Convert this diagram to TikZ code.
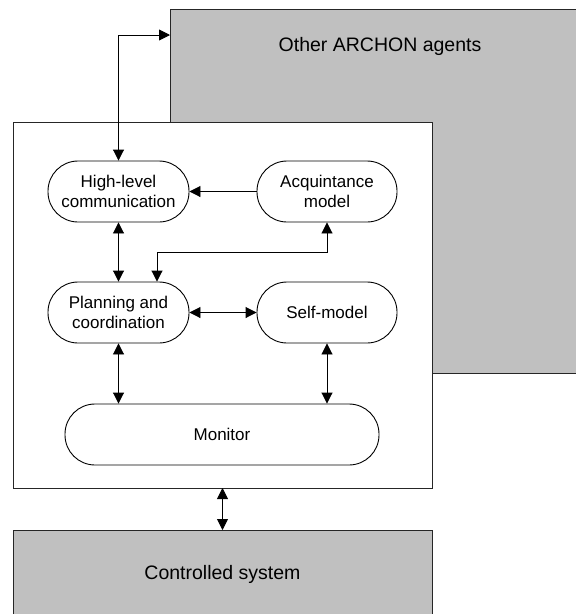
\documentclass[tikz,border=0pt]{standalone}
\usepackage{fontspec}
\setmainfont{Liberation Sans}
\usetikzlibrary{arrows.meta}

\definecolor{boxgray}{HTML}{C0C0C0}

\tikzset{
  module/.style={draw=black, line width=0.9pt, fill=white, rounded corners=30pt,
    minimum width=141pt, minimum height=61pt, inner sep=0pt, align=center,
    font=\fontsize{17}{19.5}\selectfont},
  outerbox/.style={draw=black!85, line width=1.3pt, anchor=north west, inner sep=0pt},
  boxlabel/.style={font=\fontsize{19.5}{22}\selectfont},
  link/.style={line width=0.9pt, -{Triangle[length=11pt,width=11pt]}},
  dlink/.style={line width=0.9pt, {Triangle[length=11pt,width=11pt]}-{Triangle[length=11pt,width=11pt]}}
}

\begin{document}
\begin{tikzpicture}[x=1pt, y=-1pt]
  \clip (0,0) rectangle (576,614);
  \fill[white] (0,0) rectangle (576,614);

  % surrounding agents and the controlled plant
  \node[outerbox, fill=boxgray, minimum width=430pt, minimum height=364.5pt] (other) at (170,8.5) {};
  \node[boxlabel] (otherlabel) at (380,46) {Other ARCHON agents};

  \node[outerbox, fill=boxgray, minimum width=419pt, minimum height=100pt] (plant) at (13,530) {};
  \node[boxlabel] (plantlabel) at (222.5,574) {Controlled system};

  % the agent itself
  \node[outerbox, fill=white, minimum width=419pt, minimum height=366pt] (agent) at (13,122) {};

  \node[module] (hlc)  at (118.5,191.5) {High-level\\communication};
  \node[module, minimum width=140pt] (acq)  at (327,191.5) {Acquintance\\model};
  \node[module] (plan) at (118.5,312.5) {Planning and\\coordination};
  \node[module, minimum width=140pt] (self) at (327,312.5) {Self-model};
  \node[module, minimum width=314pt] (mon) at (222,434.5) {Monitor};

  % routing points
  \coordinate (gate) at (170,35);
  \coordinate (bend) at (157,252);
  \coordinate (down) at (222.5,488);

  % connectors
  \draw[dlink] (hlc.north) |- (gate);
  \draw[link] (acq.west) -- (hlc.east);
  \draw[dlink] (hlc.south) -- (plan.north);
  \draw[dlink] (acq.south) |- (bend) -- (bend |- plan.north);
  \draw[dlink] (plan.east) -- (self.west);
  \draw[dlink] (plan.south) -- (plan.south |- mon.north);
  \draw[dlink] (self.south) -- (self.south |- mon.north);
  \draw[dlink] (down) -- (down |- plant.north);
\end{tikzpicture}
\end{document}
